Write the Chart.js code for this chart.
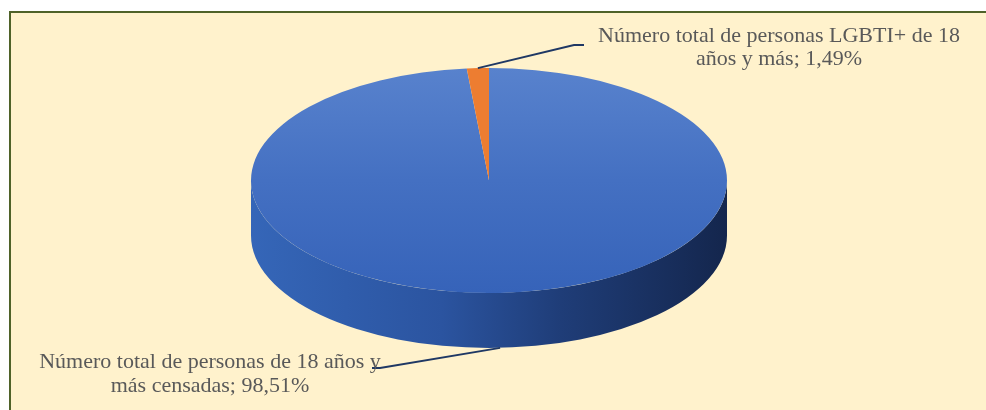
<!DOCTYPE html>
<html><head><meta charset="utf-8">
<script src="https://cdn.jsdelivr.net/npm/chart.js@4.4.1/dist/chart.umd.min.js"></script>
<style>
html,body{margin:0;padding:0;width:986px;height:410px;overflow:hidden;background:#fff;}
#frame{position:absolute;left:9px;top:11px;width:1000px;height:420px;border:2px solid #4F6228;background:#FFF2CC;box-sizing:border-box;}
#wrap{position:absolute;left:0;top:0;width:986px;height:410px;}
</style></head><body>
<div id="frame"></div>
<div id="wrap"><canvas id="c" width="986" height="410"></canvas></div>
<script>
const categories = ['Número total de personas de 18 años y más censadas', 'Número total de personas LGBTI+ de 18 años y más'];
const percentages = [98.51, 1.49];
const wordsOnFirstLine = [8, 7];
const sliceColors = ['#4472C4', '#ED7D31'];

function fmt(v){ return v.toFixed(2).replace('.', ',') + '%'; }
function labelLines(i){
  const words = (categories[i] + '; ' + fmt(percentages[i])).split(' ');
  return [words.slice(0, wordsOnFirstLine[i]).join(' '), words.slice(wordsOnFirstLine[i]).join(' ')];
}

const pie3d = {
  id: 'pie3d',
  geom(chart, opts){
    const arc = chart.getDatasetMeta(0).data[0];
    return {x: arc.x, y: arc.y, r: arc.outerRadius};
  },
  beforeDatasetsDraw(chart, args, opts){
    const meta = chart.getDatasetMeta(0);
    const {x, y, r} = this.geom(chart, opts);
    const ctx = chart.ctx;
    ctx.save();
    ctx.translate(opts.centerX, opts.centerY);
    ctx.scale(opts.rx / r, opts.ry / r);
    ctx.translate(-x, -y);
    const d = opts.depth * r / opts.ry;
    meta.data.forEach((arc, i) => {
      const s = arc.startAngle, e = arc.endAngle;
      for (let k = -1; k <= 1; k++) {
        const a = Math.max(s, 2*Math.PI*k), b = Math.min(e, 2*Math.PI*k + Math.PI);
        if (b <= a) continue;
        const g = ctx.createLinearGradient(x - r, 0, x + r, 0);
        const stops = opts.sideStops[i];
        stops.forEach(st => g.addColorStop(st[0], st[1]));
        ctx.beginPath();
        ctx.arc(x, y, r, a, b);
        ctx.arc(x, y + d, r, b, a, true);
        ctx.closePath();
        ctx.fillStyle = g;
        ctx.fill();
      }
    });
  },
  afterDatasetsDraw(chart, args, opts){
    const ctx = chart.ctx;
    ctx.restore();
    const meta = chart.getDatasetMeta(0);
    meta.data.forEach((arc, i) => {
      const m = (arc.startAngle + arc.endAngle) / 2;
      let ax = opts.centerX + opts.rx * Math.cos(m);
      let ay = opts.centerY + opts.ry * Math.sin(m);
      if (Math.sin(m) > 0) ay += opts.depth;
      const L = opts.labels[i];
      ctx.save();
      ctx.strokeStyle = '#1F3864';
      ctx.lineWidth = 2;
      ctx.beginPath();
      ctx.moveTo(ax, ay);
      ctx.lineTo(L.elbow[0], L.elbow[1]);
      ctx.lineTo(L.end[0], L.end[1]);
      ctx.stroke();
      ctx.fillStyle = '#595959';
      ctx.font = opts.font;
      ctx.textAlign = 'center';
      ctx.textBaseline = 'alphabetic';
      labelLines(i).forEach((t, j) => ctx.fillText(t, L.x, L.y + j * opts.lineHeight));
      ctx.restore();
    });
  }
};

function topGradient(context){
  const chart = context.chart;
  const ca = chart.chartArea;
  if (!ca) return sliceColors[context.dataIndex];
  if (context.dataIndex === 1) return sliceColors[1];
  const arc = chart.getDatasetMeta(0).data[0];
  const cy = arc && arc.y ? arc.y : (ca.top + ca.bottom) / 2;
  const r = arc && arc.outerRadius ? arc.outerRadius : (ca.bottom - ca.top) / 2;
  const g = chart.ctx.createLinearGradient(0, cy - r, 0, cy + r);
  g.addColorStop(0, '#5882CD');
  g.addColorStop(0.5, '#4470C2');
  g.addColorStop(1, '#3663B9');
  return g;
}

new Chart(document.getElementById('c'), {
  type: 'pie',
  data: {
    labels: categories,
    datasets: [{
      data: percentages,
      backgroundColor: topGradient,
      borderWidth: 0
    }]
  },
  options: {
    responsive: false,
    animation: false,
    events: [],
    rotation: 0,
    layout: { padding: { top: 20, bottom: 20, left: 200, right: 208 } },
    plugins: {
      legend: { display: false },
      tooltip: { enabled: false },
      pie3d: {
        centerX: 489, centerY: 180.5, rx: 238, ry: 112.5, depth: 55,
        sideStops: [
          [[0, '#3566B8'], [0.4, '#2B54A0'], [0.65, '#1F3D78'], [1, '#14264D']],
          [[0, '#B85F22'], [1, '#8A4515']]
        ],
        font: '22px "Liberation Serif"',
        lineHeight: 23.5,
        labels: [
          { x: 210, y: 368, elbow: [380, 368], end: [372, 368] },
          { x: 779, y: 41.5, elbow: [574, 45], end: [584, 45] }
        ]
      }
    }
  },
  plugins: [pie3d]
});
</script>
</body></html>
